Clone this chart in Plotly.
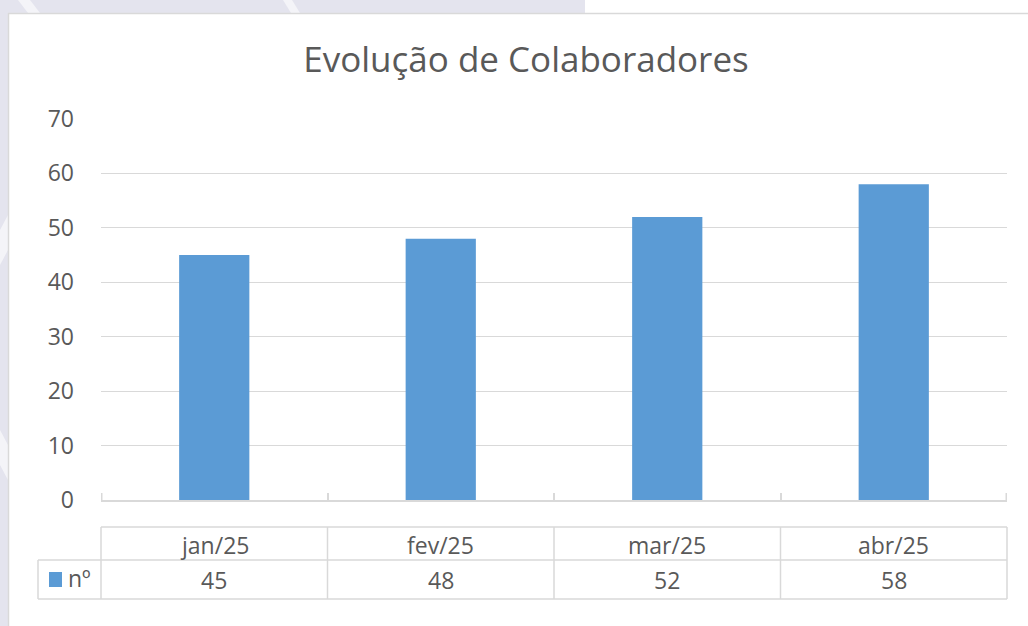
import plotly.graph_objects as go

# ---- data ----
categories = ["jan/25", "fev/25", "mar/25", "abr/25"]
values = [45, 48, 52, 58]
series_name = "nº"
title_text = "Evolução de Colaboradores"
y_ticks = [0, 10, 20, 30, 40, 50, 60, 70]

# ---- styling ----
W, H = 1028, 626
L, R, T, B = 101, 1007, 119, 500  # plot area in pixels
BAR = "#5B9BD5"
TXT = "#595959"
GRID = "#D9D9D9"
LAV = "#E4E4EE"
FONT = "Open Sans"

def px(x):
    return (x - L) / (R - L)

def py(y):
    return (B - y) / (B - T)

fig = go.Figure()
fig.add_trace(go.Bar(x=categories, y=values, name=series_name,
                     marker=dict(color=BAR, line=dict(width=0)),
                     width=0.31, showlegend=False, hoverinfo="x+y"))

shapes = []
def poly(pts, color):
    d = "M " + " L ".join(f"{px(a)},{py(b)}" for a, b in pts) + " Z"
    return dict(type="path", xref="paper", yref="paper", path=d,
                fillcolor=color, line=dict(width=0), layer="below")

# background watermark (lavender) in the margins
shapes.append(poly([(0, 0), (585, 0), (585, 13), (0, 13)], LAV))
shapes.append(poly([(0, 0), (8, 0), (8, 626), (0, 626)], LAV))
shapes.append(poly([(18, 0), (30, 0), (40, 13), (28, 13)], "#F4F4F8"))
shapes.append(poly([(283, 0), (292, 0), (300, 13), (291, 13)], "#F4F4F8"))
shapes.append(poly([(0, 230), (8, 215), (8, 250), (0, 265)], "#F4F4F8"))
shapes.append(poly([(0, 430), (8, 445), (8, 480), (0, 465)], "#F4F4F8"))
# chart area border
shapes.append(dict(type="line", xref="paper", yref="paper", x0=px(8), x1=px(W + 5),
                   y0=py(13.5), y1=py(13.5), line=dict(color=GRID, width=1.5), layer="below"))
shapes.append(dict(type="line", xref="paper", yref="paper", x0=px(8.5), x1=px(8.5),
                   y0=py(13), y1=py(H + 5), line=dict(color=GRID, width=1.5), layer="below"))

# data table grid
tbl_top, tbl_mid, tbl_bot = 527, 560, 599
leg_left = 38
def hline(x0, x1, y):
    return dict(type="line", xref="paper", yref="paper", x0=px(x0), x1=px(x1),
                y0=py(y), y1=py(y), line=dict(color=GRID, width=1.5))
def vline(x, y0, y1):
    return dict(type="line", xref="paper", yref="paper", x0=px(x), x1=px(x),
                y0=py(y0), y1=py(y1), line=dict(color=GRID, width=1.5))

shapes.append(hline(L, R, tbl_top))
shapes.append(hline(leg_left, R, tbl_mid))
shapes.append(hline(leg_left, R, tbl_bot))
shapes.append(vline(leg_left, tbl_mid, tbl_bot))
n = len(categories)
for i in range(n + 1):
    xb = L + (R - L) * i / n
    shapes.append(vline(xb, tbl_top, tbl_bot))
# axis end ticks
shapes.append(vline(L + 0.75, B - 7, B))
shapes.append(vline(R - 0.75, B - 7, B))
# legend key
shapes.append(dict(type="rect", xref="paper", yref="paper", x0=px(49), x1=px(62),
                   y0=py(587), y1=py(572), fillcolor=BAR, line=dict(width=0)))

annotations = []
for c, v in zip(categories, values):
    annotations.append(dict(x=c, xref="x", y=py(545), yref="paper", text=c,
                            showarrow=False, xanchor="center", yanchor="middle",
                            font=dict(family=FONT, size=23, color=TXT)))
    annotations.append(dict(x=c, xref="x", y=py(580), yref="paper", text=str(v),
                            showarrow=False, xanchor="center", yanchor="middle",
                            font=dict(family=FONT, size=23, color=TXT)))
annotations.append(dict(x=px(66), xref="paper", y=py(578), yref="paper", text=series_name,
                        showarrow=False, xanchor="left", yanchor="middle",
                        font=dict(family=FONT, size=23, color=TXT)))

fig.update_layout(
    width=W, height=H,
    margin=dict(l=L, r=W - R, t=T, b=H - B, pad=0),
    paper_bgcolor="white", plot_bgcolor="white",
    title=dict(text=title_text, x=526 / W, xanchor="center", y=1 - 60 / H, yanchor="middle",
               font=dict(family=FONT, size=35, color=TXT)),
    shapes=shapes, annotations=annotations,
    font=dict(family=FONT, color=TXT),
)
fig.update_xaxes(range=[-0.5, n - 0.5], showticklabels=False, tickson="boundaries",
                 ticks="inside", ticklen=7, tickcolor=GRID, tickwidth=1.5,
                 showline=True, linecolor=GRID, linewidth=1.5, showgrid=False, fixedrange=True)
fig.update_yaxes(range=[0, 70], tickvals=y_ticks, showgrid=True, gridcolor=GRID, gridwidth=1.3,
                 zeroline=False, showline=False, ticks="", ticklabelstandoff=26,
                 tickfont=dict(family=FONT, size=23, color=TXT), fixedrange=True)

fig.write_html("out.html", config={"displayModeBar": False},
               post_script="document.body.style.margin='0px';document.body.style.overflow='hidden';")
